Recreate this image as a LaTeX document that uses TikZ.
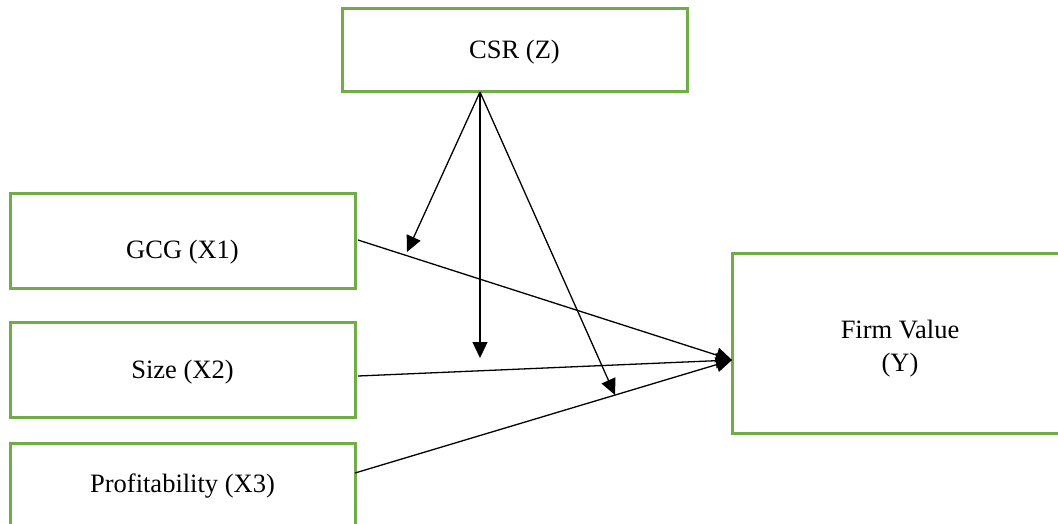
\documentclass[tikz,border=0pt]{standalone}
\usepackage{fontspec}
\setmainfont{Liberation Serif}
\usetikzlibrary{arrows.meta}
\definecolor{boxgreen}{HTML}{70AD47}
\begin{document}
\begin{tikzpicture}[x=1pt,y=-1pt,
  box/.style={draw=boxgreen,line width=3pt,rectangle,inner sep=0pt},
  lbl/.style={inner sep=0pt,font=\fontsize{26.5}{33}\selectfont,align=center},
  conn/.style={line width=1.3pt,-{Triangle[length=16pt,width=15pt]}}]
\clip (0,0) rectangle (1058,523);
\fill[white] (0,0) rectangle (1058,523);
% boxes
\node[box,minimum width=345pt,minimum height=83pt] (csr) at (514.5,49.5) {};
\node[box,minimum width=345pt,minimum height=95pt] (gcg) at (182.5,240.5) {};
\node[box,minimum width=345pt,minimum height=95pt] (size) at (182.5,369.5) {};
\node[box,minimum width=345pt,minimum height=95pt] (prof) at (182.5,490.5) {};
\node[box,minimum width=340pt,minimum height=180pt] (fv) at (902,343) {};
% labels
\node[lbl] (tcsr) at (514.5,52) {CSR (Z)};
\node[lbl] (tgcg) at (182.5,252) {GCG (X1)};
\node[lbl] (tsize) at (182.5,372) {Size (X2)};
\node[lbl] (tprof) at (182.5,486) {Profitability (X3)};
\node[lbl] (tfv) at (900,349) {Firm Value\\(Y)};
% coordinates
\coordinate (apex) at (480,92);
\coordinate (g1) at (358,240);
\coordinate (s1) at (358,376);
\coordinate (p1) at (355,473);
\coordinate (y1) at (732,360);
\coordinate (m1) at (407,252);
\coordinate (m2) at (480,358);
\coordinate (m3) at (615,395);
% connectors
\draw[conn] (g1) -- (y1);
\draw[conn] (s1) -- (y1);
\draw[conn] (p1) -- (y1);
\draw[conn] (apex) -- (m1);
\draw[conn] (apex) -- (m2);
\draw[conn] (apex) -- (m3);
\end{tikzpicture}
\end{document}
